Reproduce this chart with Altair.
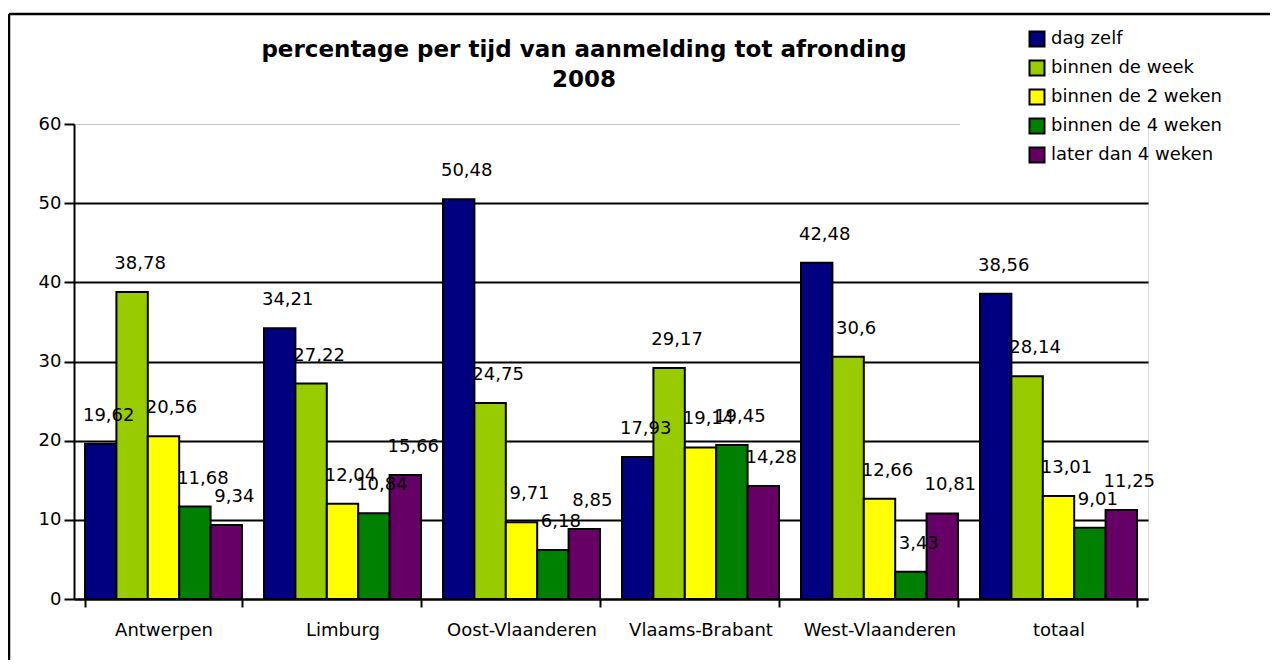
import altair as alt
import pandas as pd

regions = ["Antwerpen", "Limburg", "Oost-Vlaanderen", "Vlaams-Brabant", "West-Vlaanderen", "totaal"]
series = ["dag zelf", "binnen de week", "binnen de 2 weken", "binnen de 4 weken", "later dan 4 weken"]
colors = ["#000080", "#99CC00", "#FFFF00", "#008000", "#660066"]

dag_zelf = [19.62, 34.21, 50.48, 17.93, 42.48, 38.56]
binnen_de_week = [38.78, 27.22, 24.75, 29.17, 30.6, 28.14]
binnen_2_weken = [20.56, 12.04, 9.71, 19.14, 12.66, 13.01]
binnen_4_weken = [11.68, 10.84, 6.18, 19.45, 3.43, 9.01]
later_4_weken = [9.34, 15.66, 8.85, 14.28, 10.81, 11.25]

y_ticks = [0, 10, 20, 30, 40, 50, 60]
title_lines = ["percentage per tijd van aanmelding tot afronding", "2008"]

rows = []
for s, vals in zip(series, [dag_zelf, binnen_de_week, binnen_2_weken, binnen_4_weken, later_4_weken]):
    for r, v in zip(regions, vals):
        rows.append({"regio": r, "reeks": s, "waarde": v, "label": f"{v:g}".replace(".", ",")})
df = pd.DataFrame(rows)

FONT = "DejaVu Sans"

x_enc = alt.X(
    "regio:N", sort=regions, title=None,
    scale=alt.Scale(paddingInner=0.123, paddingOuter=0.0615),
    axis=alt.Axis(
        labelAngle=0, tickBand="extent", grid=False,
        domainColor="black", domainWidth=2, tickColor="black", tickWidth=2, tickSize=8,
        labelPadding=14, labelFont=FONT, labelFontSize=18, labelColor="black",
    ),
)
xo_enc = alt.XOffset("reeks:N", sort=series, scale=alt.Scale(paddingInner=0, paddingOuter=0))
y_enc = alt.Y(
    "waarde:Q", title=None,
    scale=alt.Scale(domain=[0, 60], nice=False),
    axis=alt.Axis(
        values=y_ticks, domainColor="black", domainWidth=2, tickColor="black", tickWidth=2,
        tickSize=10, labelPadding=3, labelFont=FONT, labelFontSize=18, labelColor="black",
        gridColor={"condition": {"test": "datum.value === 60", "value": "#c8c8c8"}, "value": "black"},
        gridWidth={"condition": {"test": "datum.value === 60", "value": 1}, "value": 2},
    ),
)
color_enc = alt.Color(
    "reeks:N", sort=series,
    scale=alt.Scale(domain=series, range=colors),
    legend=alt.Legend(
        title=None, orient="none", legendX=954, legendY=-94,
        symbolType="square", symbolSize=225, symbolStrokeColor="black", symbolStrokeWidth=2,
        symbolOpacity=1, labelFont=FONT, labelFontSize=18, labelColor="black",
        labelOffset=5, labelLimit=400, rowPadding=5, padding=0,
    ),
)

bars = alt.Chart(df).mark_bar(stroke="black", strokeWidth=2, opacity=1).encode(
    x=x_enc, xOffset=xo_enc, y=y_enc, color=color_enc
)
labels = alt.Chart(df).mark_text(
    dy=-28, dx=8, font=FONT, fontSize=18, color="black"
).encode(x=x_enc, xOffset=xo_enc, y=y_enc, text="label:N")

one = alt.Data(values=[{"k": 1}])
cover = alt.Chart(one).mark_rule(color="white", strokeWidth=4).encode(
    x=alt.value(886), x2=alt.value(1076), y=alt.value(0)
)
frame_top = alt.Chart(one).mark_rule(color="black", strokeWidth=2.5).encode(
    x=alt.value(-65), x2=alt.value(1300), y=alt.value(-110)
)
frame_left = alt.Chart(one).mark_rule(color="black", strokeWidth=2.5).encode(
    x=alt.value(-65), y=alt.value(-110), y2=alt.value(700)
)

chart = alt.layer(bars, labels, cover, frame_top, frame_left).properties(
    width=1074, height=475,
    padding={"left": 66, "top": 116, "right": 122, "bottom": 61},
    autosize=alt.AutoSizeParams(type="none"),
    title=alt.TitleParams(
        text=title_lines, font=FONT, fontSize=23, fontWeight="bold", color="black",
        anchor="middle", frame="group", dx=-27, offset=-79, lineHeight=30,
    ),
).configure_view(stroke="transparent", strokeWidth=0).configure(background="white")

chart.save("out.html", embed_options={"renderer": "svg", "actions": False})
